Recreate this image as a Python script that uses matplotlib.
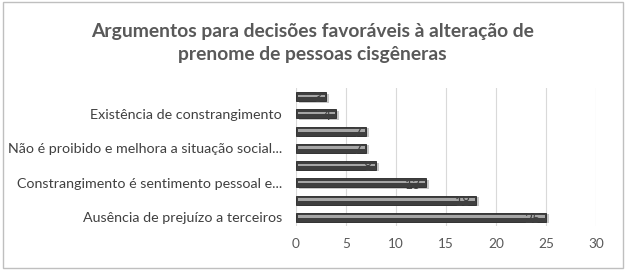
import matplotlib
matplotlib.use("Agg")
import matplotlib.pyplot as plt
from matplotlib.patches import Rectangle

# Data (bottom to top)
categories = ["Ausência de prejuízo a terceiros", "",
              "Constrangimento é sentimento pessoal e...", "",
              "Não é proibido e melhora a situação social...", "",
              "Existência de constrangimento", ""]
values = [25, 18, 13, 8, 7, 7, 4, 3]
xticks = [0, 5, 10, 15, 20, 25, 30]

plt.rcParams['font.family'] = ['Lato', 'DejaVu Sans']

fig = plt.figure(figsize=(6.25, 2.7), dpi=100)
fig.patch.set_facecolor("white")
fig.patches.append(Rectangle((0.004, 0.008), 0.992, 0.985, transform=fig.transFigure,
                             fill=False, edgecolor="#bfbfbf", linewidth=1.0))

ax = fig.add_axes([0.4736, 0.163, 0.48, 0.511])
ypos = list(range(len(values)))

# shadow
ax.barh([y - 0.08 for y in ypos], values, left=0.25, height=0.52, color="#c8c8c8", zorder=2)
# main bar
ax.barh(ypos, values, height=0.52, color="#3f3f3f", edgecolor="#262626", linewidth=0.6, zorder=3)
# highlight stripe
ax.barh([y + 0.04 for y in ypos], [v - 0.3 for v in values], left=0.15, height=0.14,
        color="#a6a6a6", zorder=4)

for y, v in zip(ypos, values):
    ax.text(v - 0.5, y - 0.1, str(v), ha="right", va="center", fontsize=10,
            color="#404040", zorder=5)

ax.set_xlim(0, 30)
ax.set_ylim(-0.5, len(values) - 0.5)
ax.set_xticks(xticks)
ax.set_xticklabels([str(t) for t in xticks], fontsize=9.8, color="#595959")
ax.set_yticks(ypos)
ax.set_yticklabels(categories, fontsize=10.3, color="#404040")
ax.tick_params(axis="both", length=0, pad=9)
ax.tick_params(axis="y", pad=10)
ax.grid(axis="x", color="#d9d9d9", linewidth=0.8, zorder=0)
ax.set_axisbelow(True)
for s in ax.spines.values():
    s.set_visible(False)

fig.text(0.5, 0.84, "Argumentos para decisões favoráveis à alteração de\nprenome de pessoas cisgêneras",
         ha="center", va="center", fontsize=13.9, fontweight="bold", color="#595959",
         linespacing=1.4)

fig.savefig("out.png", dpi=100, facecolor="white")
